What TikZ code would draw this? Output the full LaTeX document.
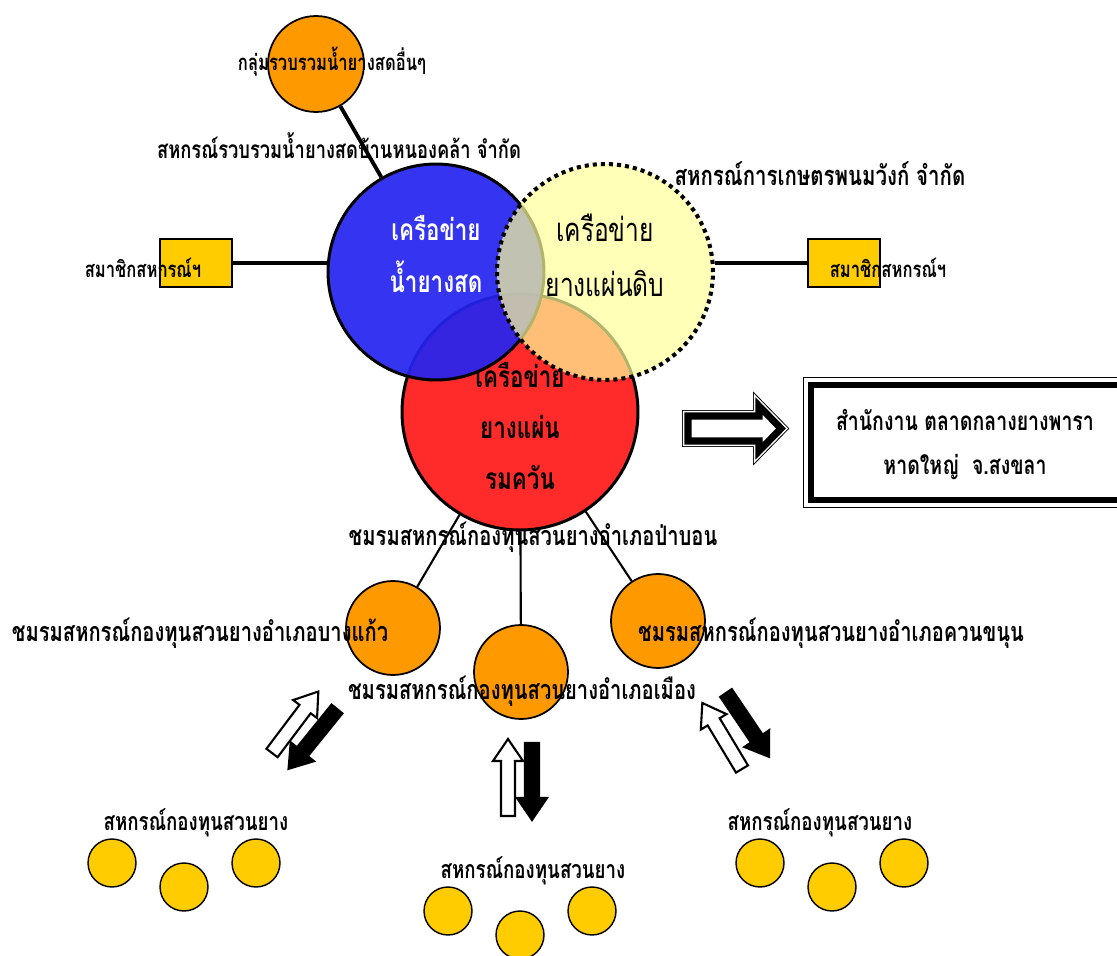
\documentclass[tikz,border=0pt]{standalone}
\usepackage{fontspec}
\usepackage{tikz}
\usepackage{xcolor}
\usetikzlibrary{shapes.arrows, positioning}
\newfontfamily\thaifont[Script=Thai,FakeStretch=0.75]{Loma}

\definecolor{rorange}{HTML}{FF9900}
\definecolor{rgold}{HTML}{FFCC00}
\definecolor{rblue}{HTML}{2424F0}
\definecolor{rred}{HTML}{FF2A2A}
\definecolor{ryellow}{HTML}{FFFF99}

\tikzset{
  lbl/.style={font=\thaifont\bfseries\fontsize{14.2}{16}\selectfont, inner sep=0pt, text height=1ex, text depth=0pt},
  clubtxt/.style={lbl, font=\thaifont\bfseries\fontsize{15.3}{17}\selectfont},
  small/.style={font=\thaifont\bfseries\fontsize{12.6}{14}\selectfont, inner sep=0pt, text height=1ex, text depth=0pt},
  nettext/.style={font=\thaifont\bfseries\fontsize{17}{29.5}\selectfont, inner sep=0pt, align=center, text height=1ex, text depth=0pt},
  net/.style={circle, draw, line width=1.7pt, minimum size=4.32cm, inner sep=0pt},
  club/.style={circle, draw, line width=1pt, fill=rorange, minimum size=1.88cm, inner sep=0pt},
  coop/.style={circle, draw, line width=0.8pt, fill=rgold, minimum size=0.96cm, inner sep=0pt},
  memberbox/.style={rectangle, draw, line width=0.8pt, fill=rgold, minimum width=1.44cm, minimum height=0.96cm, inner sep=0pt},
  link/.style={line width=2.2pt},
  thinlink/.style={line width=1.2pt},
  hqbox/.style={rectangle, fill=white, draw, line width=3.4pt, preaction={draw, line width=9.1pt}, preaction={draw=white, line width=7.9pt}, minimum width=6.22cm, minimum height=2.3cm, inner sep=0pt},
  hqarrow/.style={fill=white, draw, line width=4pt, preaction={draw, line width=6.8pt}, preaction={draw=white, line width=5.7pt}},
  hollow/.style={draw, line width=1.2pt, fill=white},
  solid/.style={draw, line width=1.2pt, fill=black}
}

% fat arrow: tail x, tail y, angle, style
\newcommand{\fatarrow}[4]{%
  \draw[#4, shift={(#1,#2)}, rotate=#3] (0,-7) -- (55,-7) -- (55,-15) -- (77,0) -- (55,15) -- (55,7) -- (0,7) -- cycle;}

\begin{document}
\begin{tikzpicture}[x=0.02cm, y=-0.02cm]
  \useasboundingbox (0,0) rectangle (1117,956);

  % the three networks
  \node[net, fill=rred, minimum size=4.72cm] (smoked) at (520,412) {};
  \node[net, fill=rblue, fill opacity=0.92] (latex) at (436,272) {};
  \node[net, fill=ryellow, fill opacity=0.7, line width=2.3pt, dash pattern=on 2.3pt off 2.3pt] (raw) at (605,272) {};

  % upper side
  \node[club, minimum size=1.92cm] (others) at (316,64) {};
  \node[memberbox] (lbox) at (196,263) {};
  \node[memberbox] (rbox) at (844,263) {};
  \draw[link] (others) -- (latex);
  \draw[link] (lbox.east) -- (lbox.east -| latex.west);
  \draw[link] (raw.east |- rbox.west) -- (rbox.west);

  % district clubs
  \node[club] (bangkaeo) at (393,628) {};
  \node[club] (mueang) at (521,672) {};
  \node[club] (khuankhanun) at (658,621) {};
  \draw[thinlink] (smoked) -- (bangkaeo);
  \draw[thinlink] (smoked) -- (mueang);
  \draw[thinlink] (smoked) -- (khuankhanun);

  % member cooperatives
  \node[coop] (lc1) at (112,863) {};
  \node[coop] (lc2) at (184,887) {};
  \node[coop] (lc3) at (256,863) {};
  \node[coop] (mc1) at (448,911) {};
  \node[coop] (mc2) at (520,935) {};
  \node[coop] (mc3) at (592,911) {};
  \node[coop] (rc1) at (760,863) {};
  \node[coop] (rc2) at (832,887) {};
  \node[coop] (rc3) at (904,863) {};

  % two way arrows
  \fatarrow{272}{753}{53}{hollow}
  \fatarrow{337}{709}{231}{solid}
  \fatarrow{508}{816}{90}{hollow}
  \fatarrow{532}{743}{270}{solid}
  \fatarrow{742}{769}{121}{hollow}
  \fatarrow{726}{693}{-56}{solid}

  % head office
  \draw[hqarrow] (688,416) -- (759,416) -- (759,406) -- (781,428.5) -- (759,451) -- (759,441) -- (688,441) -- cycle;
  \node[hqbox] (hq) at (966.5,442.5) {};
  \node[lbl, font=\thaifont\bfseries\fontsize{14.8}{25}\selectfont, align=center] (hqtxt) at (965,471) {สำนักงาน ตลาดกลางยางพารา\\หาดใหญ่~~จ.สงขลา};

  % network names
  \node[nettext, text=white] (latextxt) at (436,289) {เครือข่าย\\น้ำยางสด};
  \node[nettext, font=\thaifont\fontsize{18.6}{31.7}\selectfont] (rawtxt) at (605,293) {เครือข่าย\\ยางแผ่นดิบ};
  \node[nettext, font=\thaifont\bfseries\fontsize{17}{29}\selectfont] (smokedtxt) at (520,486) {เครือข่าย\\ยางแผ่น\\รมควัน};

  % labels
  \node[small] (otherstxt) at (332,67) {กลุ่มรวบรวมน้ำยางสดอื่นๆ};
  \node[lbl, font=\thaifont\bfseries\fontsize{13.9}{16}\selectfont] (nongkhla) at (339,155) {สหกรณ์รวบรวมน้ำยางสดบ้านหนองคล้า จำกัด};
  \node[lbl, font=\thaifont\bfseries\fontsize{15.5}{17}\selectfont] (phanomwang) at (820,182) {สหกรณ์การเกษตรพนมวังก์ จำกัด};
  \node[small] (lboxtxt) at (143,274) {สมาชิกสหกรณ์ฯ};
  \node[small] (rboxtxt) at (888,274) {สมาชิกสหกรณ์ฯ};
  \node[clubtxt] (pabon) at (533,542) {ชมรมสหกรณ์กองทุนสวนยางอำเภอป่าบอน};
  \node[clubtxt] (bangkaeotxt) at (200,638) {ชมรมสหกรณ์กองทุนสวนยางอำเภอบางแก้ว};
  \node[clubtxt] (khuankhanuntxt) at (831,638) {ชมรมสหกรณ์กองทุนสวนยางอำเภอควนขนุน};
  \node[clubtxt] (mueangtxt) at (522,696) {ชมรมสหกรณ์กองทุนสวนยางอำเภอเมือง};
  \node[lbl] (lcoops) at (196,827) {สหกรณ์กองทุนสวนยาง};
  \node[lbl] (mcoops) at (533,875) {สหกรณ์กองทุนสวนยาง};
  \node[lbl] (rcoops) at (820,827) {สหกรณ์กองทุนสวนยาง};
\end{tikzpicture}
\end{document}
